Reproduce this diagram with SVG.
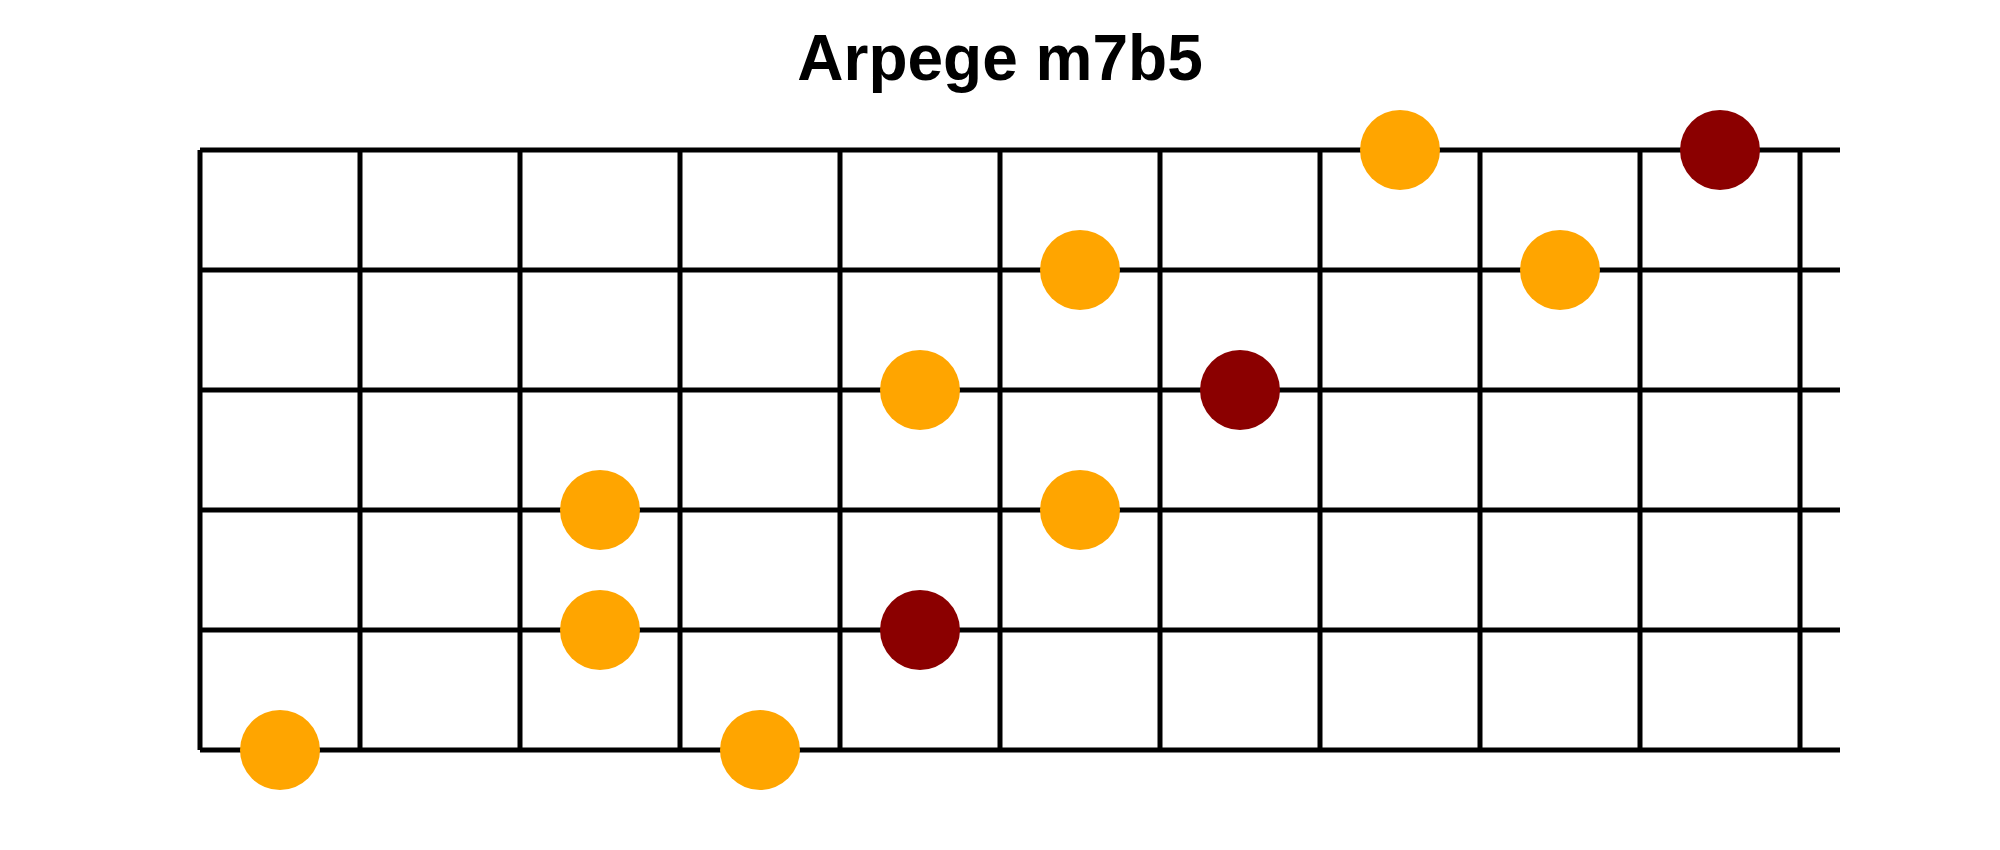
<svg xmlns="http://www.w3.org/2000/svg" width="2000" height="850" viewBox="0 0 2000 850">
<style>
.s{stroke:#000;stroke-width:5;stroke-linecap:butt;fill:none}
.o{fill:#FFA500}
.r{fill:#8B0000}
.t{font-family:"Liberation Sans",Arial,sans-serif;font-weight:bold;font-size:64px;text-anchor:middle;fill:#000}
</style>
<rect width="2000" height="850" fill="#fff"/>
<text class="t" x="1000" y="80">Arpege m7b5</text>
<g id="strings">
<line class="s" x1="200" y1="150" x2="1840" y2="150"/>
<line class="s" x1="200" y1="270" x2="1840" y2="270"/>
<line class="s" x1="200" y1="390" x2="1840" y2="390"/>
<line class="s" x1="200" y1="510" x2="1840" y2="510"/>
<line class="s" x1="200" y1="630" x2="1840" y2="630"/>
<line class="s" x1="200" y1="750" x2="1840" y2="750"/>
</g>
<g id="frets">
<line class="s" x1="200" y1="150" x2="200" y2="750"/>
<line class="s" x1="360" y1="150" x2="360" y2="750"/>
<line class="s" x1="520" y1="150" x2="520" y2="750"/>
<line class="s" x1="680" y1="150" x2="680" y2="750"/>
<line class="s" x1="840" y1="150" x2="840" y2="750"/>
<line class="s" x1="1000" y1="150" x2="1000" y2="750"/>
<line class="s" x1="1160" y1="150" x2="1160" y2="750"/>
<line class="s" x1="1320" y1="150" x2="1320" y2="750"/>
<line class="s" x1="1480" y1="150" x2="1480" y2="750"/>
<line class="s" x1="1640" y1="150" x2="1640" y2="750"/>
<line class="s" x1="1800" y1="150" x2="1800" y2="750"/>
</g>
<g id="notes">
<circle class="o" cx="1400" cy="150" r="40"/>
<circle class="r" cx="1720" cy="150" r="40"/>
<circle class="o" cx="1080" cy="270" r="40"/>
<circle class="o" cx="1560" cy="270" r="40"/>
<circle class="o" cx="920" cy="390" r="40"/>
<circle class="r" cx="1240" cy="390" r="40"/>
<circle class="o" cx="600" cy="510" r="40"/>
<circle class="o" cx="1080" cy="510" r="40"/>
<circle class="o" cx="600" cy="630" r="40"/>
<circle class="r" cx="920" cy="630" r="40"/>
<circle class="o" cx="280" cy="750" r="40"/>
<circle class="o" cx="760" cy="750" r="40"/>
</g>
</svg>
